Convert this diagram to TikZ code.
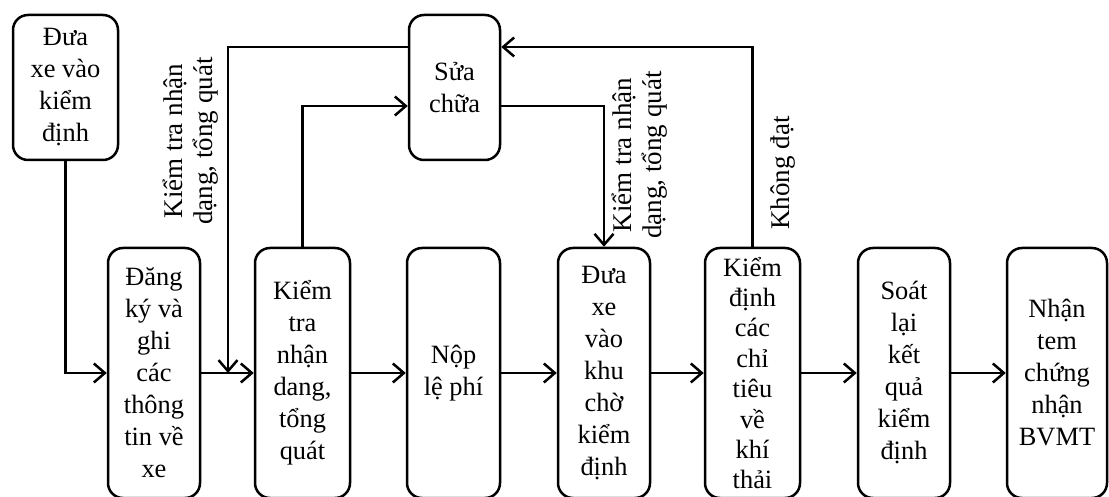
\documentclass[tikz,border=0pt]{standalone}
\usepackage{fontspec}
\setmainfont{Liberation Serif}
\usetikzlibrary{arrows.meta}
\begin{document}
\begin{tikzpicture}[x=0.5pt,y=-0.5pt,
  box/.style={draw, line width=1.25pt, rounded corners=7.5pt, align=center, inner sep=0pt,
    font=\fontsize{13.2}{16}\selectfont},
  lowbox/.style={box, minimum height=125pt},
  conn/.style={line width=1.25pt, -{Straight Barb[length=5.5pt,width=9.5pt,line width=1.25pt]}},
  lbl/.style={rotate=90, align=center, inner sep=0pt, font=\fontsize{13.5}{15}\selectfont}]
\useasboundingbox (0,0) rectangle (1109,497);
\clip (0,0) rectangle (1109,497);
% top boxes
\node[box, minimum width=52.5pt, minimum height=72.5pt] (b0) at (65.5,87.5) {Đưa\\xe vào\\kiểm\\định};
\node[box, minimum width=45.5pt, minimum height=72.5pt] (sc) at (454.5,87.5) {Sửa\\chữa};
% bottom boxes
\node[lowbox, minimum width=46pt] (b1) at (154,373) {Đăng\\ký và\\ghi\\các\\thông\\tin về\\xe};
\node[lowbox, minimum width=47.5pt] (b2) at (302.5,373) {Kiểm\\tra\\nhận\\dang,\\tổng\\quát};
\node[lowbox, minimum width=46.5pt] (b3) at (453.5,373) {Nộp\\lệ phí};
\node[lowbox, minimum width=46pt] (b4) at (604,373) {Đưa\\xe\\vào\\khu\\chờ\\kiểm\\định};
\node[lowbox, minimum width=47.5pt, font=\fontsize{13.2}{15.2}\selectfont] (b5) at (752.5,373) {Kiểm\\định\\các\\chỉ\\tiêu\\về\\khí\\thải};
\node[lowbox, minimum width=46pt] (b6) at (904,373) {Soát\\lại\\kết\\quả\\kiểm\\định};
\node[lowbox, minimum width=50pt] (b7) at (1057,373) {Nhận\\tem\\chứng\\nhận\\BVMT};
% helper coordinates
\coordinate (ytop) at (0,47);
\coordinate (ymid) at (0,106);
\coordinate (j) at (228,373);
% connectors
\draw[conn] (b0.south) |- (b1.west);
\draw[conn] (b1.east) -- (b2.west);
\draw[conn] (b2.east) -- (b3.west);
\draw[conn] (b3.east) -- (b4.west);
\draw[conn] (b4.east) -- (b5.west);
\draw[conn] (b5.east) -- (b6.west);
\draw[conn] (b6.east) -- (b7.west);
\draw[conn] (sc.west |- ytop) -| (j);
\draw[conn] (b2.north) |- (sc.west |- ymid);
\draw[conn] (sc.east |- ymid) -| (b4.north);
\draw[conn] (b5.north) |- (sc.east |- ytop);
% labels
\node[lbl] (l1) at (191,141) {Kiểm tra nhận\\dạng, tổng quát};
\node[lbl] (l2) at (640,155) {Kiểm tra nhận\\dạng, tổng quát};
\node[lbl] (l3) at (783,173) {Không đạt};
\end{tikzpicture}
\end{document}
